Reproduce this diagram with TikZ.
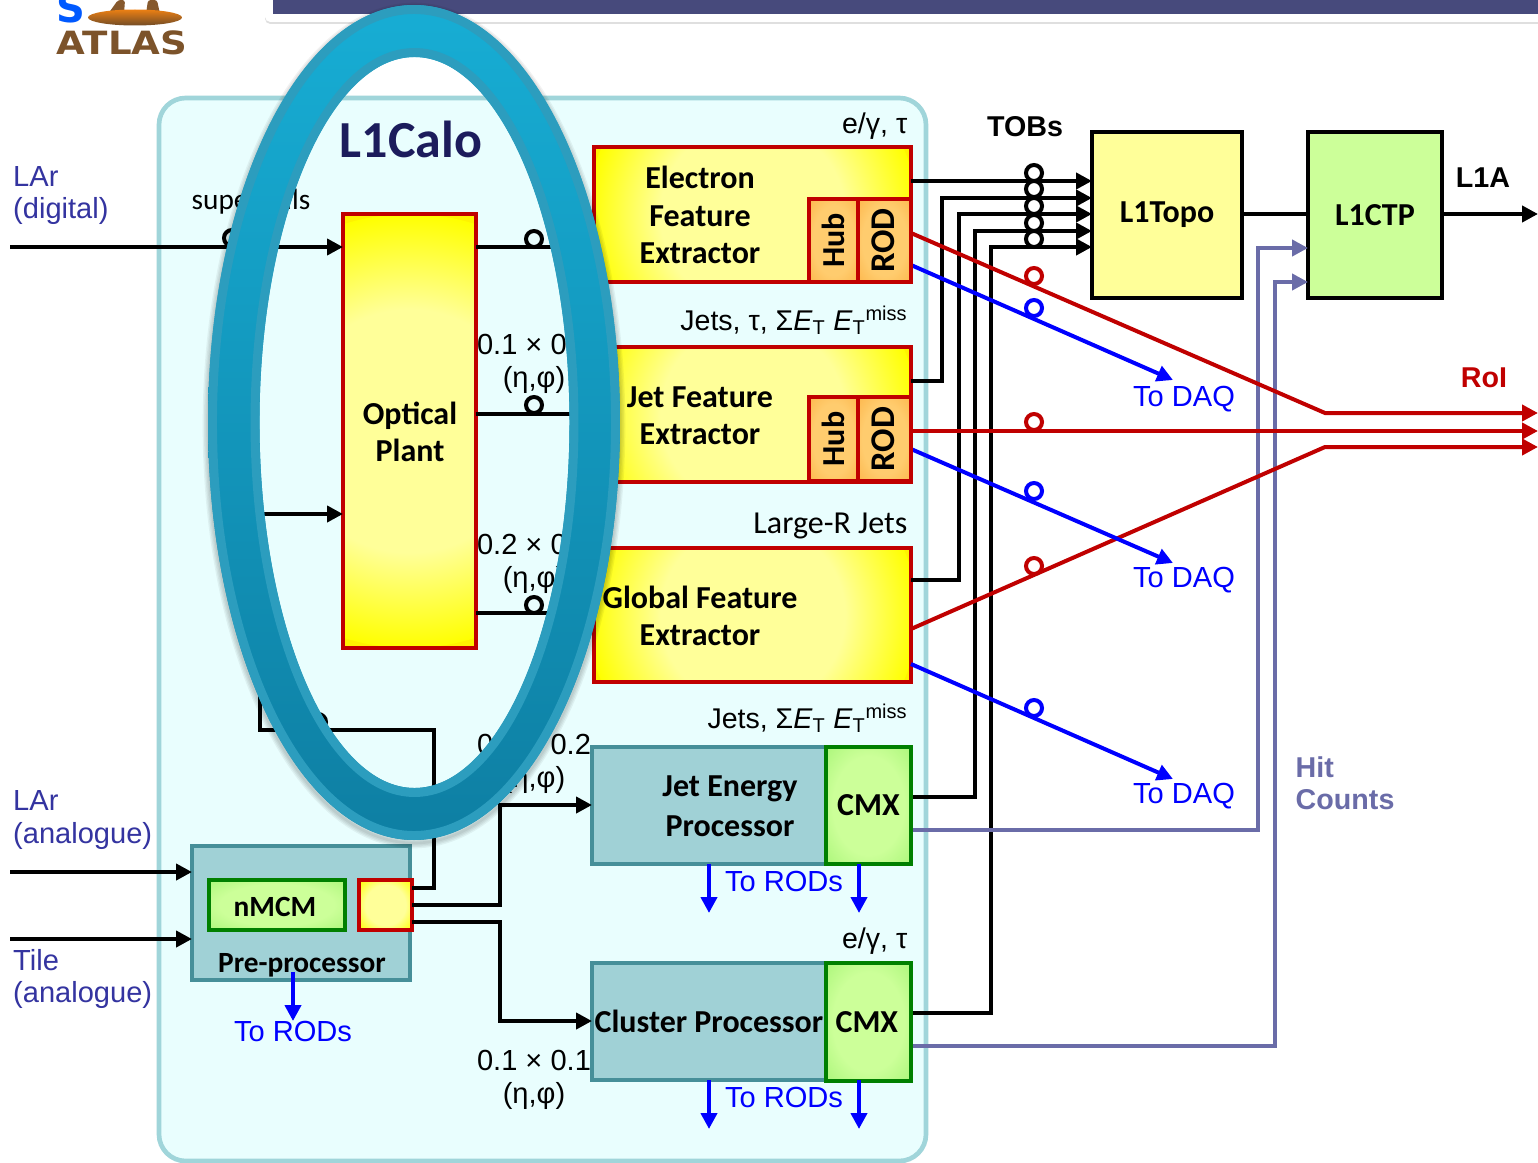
\documentclass[tikz,border=0pt]{standalone}
\usepackage{fontspec}
\setmainfont{Carlito}
\newfontfamily\arialfont{Liberation Sans}
\newfontfamily\logofont{DejaVu Sans}
\usepackage{xcolor}
\usetikzlibrary{arrows.meta,positioning,calc,shadows}
\definecolor{crimson}{HTML}{C00000}
\definecolor{calofill}{HTML}{E9FEFE}
\definecolor{caloedge}{HTML}{A0D5DA}
\definecolor{tealfill}{HTML}{A0D1D6}
\definecolor{tealedge}{HTML}{468F99}
\definecolor{hitline}{HTML}{6A6CA8}
\definecolor{inlabel}{HTML}{3434A0}
\definecolor{navy}{HTML}{1C1C5C}
\definecolor{barblue}{HTML}{474A7C}
\definecolor{paleyellow}{HTML}{FFFF99}
\definecolor{palegreen}{HTML}{CCFF99}
\definecolor{edgegreen}{HTML}{ADF77C}
\definecolor{paleorange}{HTML}{FFCC6E}
\definecolor{edgeorange}{HTML}{FDB84E}
\definecolor{ringtop}{HTML}{17ADD4}
\definecolor{ringbot}{HTML}{0E7FA3}
\definecolor{ringedge}{HTML}{2C9DBE}
\pgfdeclareradialshading{softyellow}{\pgfpointorigin}{color(0bp)=(paleyellow); color(14bp)=(paleyellow); color(25bp)=(yellow); color(50bp)=(yellow)}
\pgfdeclareradialshading{softgreen}{\pgfpointorigin}{color(0bp)=(palegreen); color(21bp)=(palegreen); color(35bp)=(edgegreen); color(50bp)=(edgegreen)}
\pgfdeclareradialshading{softorange}{\pgfpointorigin}{color(0bp)=(paleorange); color(21bp)=(paleorange); color(35bp)=(edgeorange); color(50bp)=(edgeorange)}
\tikzset{
  wh/.style 2 args={minimum width=#1*0.75pt, minimum height=#2*0.75pt, inner sep=0pt, outer sep=0pt},
  boldtxt/.style={font=\fontsize{24}{28}\selectfont\bfseries, align=center},
  arialbold/.style={font=\fontsize{21.5}{24}\selectfont\arialfont\bfseries, align=left},
  lbl/.style={font=\fontsize{21.8}{24.5}\selectfont\arialfont, align=center},
  tag/.style={font=\fontsize{21.4}{24}\selectfont\arialfont, anchor=east},
  calibri/.style={font=\fontsize{24}{24}\selectfont},
  yellowbox/.style={draw=crimson, line width=3pt, fill=yellow, path picture={\shade[shading=softyellow] (path picture bounding box.center) circle [radius=#1];}},
  orangebox/.style={draw=crimson, line width=3pt, shading=softorange, boldtxt},
  greenbox/.style={draw=green!50!black, line width=3pt, shading=softgreen, boldtxt},
  tealbox/.style={draw=tealedge, line width=3pt, fill=tealfill},
  topbox/.style={draw=black, line width=3pt, boldtxt},
  sig/.style={line width=3pt, line join=miter},
  sigarrow/.style={sig, -{Triangle[length=12pt,width=12pt]}},
  blackline/.style={sig, black},
  redline/.style={sigarrow, crimson},
  blueline/.style={sigarrow, blue},
  hitarrow/.style={sigarrow, hitline},
  tap/.style={circle, draw, line width=3pt, minimum size=12pt, inner sep=0pt},
}
\begin{document}
\begin{tikzpicture}[x=0.75pt, y=-0.75pt]
\useasboundingbox (0,0) rectangle (1538,1163);
\fill[white] (0,0) rectangle (1538,1163);

\fill[brown!70!black, rounded corners=2pt] (108,14) -- (118,0) -- (125,0) -- (124,14) -- cycle;
\fill[brown!70!black, rounded corners=2pt] (146,14) -- (148,0) -- (157,0) -- (160,14) -- cycle;
\shade[top color=orange!70!brown, bottom color=brown!60!black] (135,17.5) ellipse [x radius=47, y radius=8];
\node[font=\fontsize{24}{24}\selectfont\logofont\bfseries, text=brown!65!black, xscale=1.16] (atlas) at (122,43) {ATLAS};
\node[font=\fontsize{30}{30}\selectfont\logofont\bfseries, text=blue!65!cyan, anchor=base] (slogo) at (71,23) {S};

\node[fill=white, rounded corners=4pt, wh={1300}{40}, drop shadow={opacity=.25, shadow xshift=0pt, shadow yshift=-1.5pt}] (panel) at (915,2) {};
\node[fill=barblue, wh={1265}{14}, anchor=north west] (bar) at (273,0) {};

\node[draw=caloedge, fill=calofill, line width=3.5pt, rounded corners=20pt, wh={767}{1063}] (calo) at (542.5,629.5) {};
\node[font=\fontsize{39}{40}\selectfont\bfseries, text=navy] (title) at (411,139) {L1Calo};

\coordinate (lard) at (10,247);
\coordinate (laran) at (10,872);
\coordinate (tile) at (10,939);

\node[yellowbox=217, wh={133}{434}] (plant) at (409.5,431) {};
\node[yellowbox=165, wh={317}{135}] (efex) at (752.5,214.5) {};
\node[yellowbox=165, wh={317}{135}] (jfex) at (752.5,414.5) {};
\node[yellowbox=165, wh={317}{134}] (gfex) at (752.5,615) {};
\node[tealbox, wh={234}{117}] (jep) at (709,805.5) {};
\node[tealbox, wh={234}{117}] (cp) at (709,1021.5) {};
\node[tealbox, wh={218}{134}] (ppr) at (301,913) {};
\node[yellowbox=36, wh={53}{50}] (ppy) at (385.5,905) {};
\node[topbox, fill=paleyellow, wh={150}{166}] (topo) at (1167,215) {\raisebox{-2pt}{L1Topo}};
\node[topbox, fill=palegreen, wh={134}{166}] (ctp) at (1375,215) {L1CTP};

\draw[sigarrow] (lard) -- (plant.west |- lard);
\draw[sigarrow] (laran) -- (ppr.west |- laran);
\draw[sigarrow] (tile) -- (ppr.west |- tile);
\draw[sigarrow] (ppy.east |- 0,888) -| (434,730) -| (260,514) -- (plant.west |- 0,514);
\draw[sigarrow] (ppy.east |- 0,905) -| (500,805) -- (jep.west |- 0,805);
\draw[sigarrow] (ppy.east |- 0,922) -| (500,1021) -- (cp.west |- 0,1021);
\draw[blackline] (plant.east |- 0,247) -- (efex.west |- 0,247);
\draw[blackline] (plant.east |- 0,414) -- (jfex.west |- 0,414);
\draw[blackline] (plant.east |- 0,613) -- (gfex.west |- 0,613);

\draw[sigarrow] (efex.east |- 0,181) -- (topo.west |- 0,181);
\draw[sigarrow] (jfex.east |- 0,381) -| (942,198) -- (topo.west |- 0,198);
\draw[sigarrow] (gfex.east |- 0,580) -| (959,214) -- (topo.west |- 0,214);
\draw[sigarrow] (jep.east -| jfex.east) ++(0,-8.5) -| (975,231) -- (topo.west |- 0,231);
\draw[sigarrow] (cp.east -| jfex.east) ++(0,-8.5) -| (991,247) -- (topo.west |- 0,247);
\draw[blackline] (topo.east |- 0,214) -- (ctp.west |- 0,214);
\draw[sigarrow] (ctp.east |- 0,214) -- (1538,214);

\draw[hitarrow] (jfex.east |- 0,830) -| (1258,248) -- (ctp.west |- 0,248);
\draw[hitarrow] (jfex.east |- 0,1046) -| (1275,282) -- (ctp.west |- 0,282);

\draw[redline] (efex.east |- 0,233) -- (1325,413) -- (1538,413);
\draw[redline] (jfex.east |- 0,431) -- (1538,431);
\draw[redline] (gfex.east |- 0,629) -- (1325,447) -- (1538,447);
\draw[blueline] (efex.east |- 0,265) -- (1173,380);
\draw[blueline] (jfex.east |- 0,449) -- (1173,563);
\draw[blueline] (gfex.east |- 0,664) -- (1173,779);

\node[orangebox, rotate=90, wh={83}{49}] (hube) at (833.5,240.5) {Hub};
\node[orangebox, rotate=90, wh={83}{53}] (rode) at (884.5,240.5) {\fontsize{26}{28}\selectfont\raisebox{2pt}{ROD}};
\node[orangebox, rotate=90, wh={84}{49}] (hubj) at (833.5,439) {Hub};
\node[orangebox, rotate=90, wh={84}{53}] (rodj) at (884.5,439) {\fontsize{26}{28}\selectfont\raisebox{2pt}{ROD}};
\node[greenbox, wh={85}{117}] (cmxj) at (868.5,805.5) {CMX};
\node[greenbox, wh={85}{118}] (cmxc) at (868.5,1022) {\kern-2.5pt CMX};
\node[greenbox, wh={136}{50}] (nmcm) at (277,905) {};

\node[boldtxt] (efext) at (700,215) {Electron\\Feature\\Extractor};
\node[boldtxt] (jfext) at (700,416) {Jet Feature\\Extractor};
\node[boldtxt] (gfext) at (700,616) {Global Feature\\Extractor};
\node[boldtxt, font=\fontsize{24}{30}\selectfont\bfseries] (jept) at (730,806) {Jet Energy\\Processor};
\node[boldtxt] (cpt) at (709,1021) {Cluster Processor};
\node[boldtxt] (plantt) at (410,432) {Optical\\Plant};
\node[boldtxt, font=\fontsize{22}{24}\selectfont\bfseries] (pprt) at (302,965) {Pre-processor};
\node[boldtxt, font=\fontsize{22}{24}\selectfont\bfseries] (nmcmt) at (275,907) {nMCM};

\foreach \ypos in {173,189,206,223,239} \node[tap] (tob\ypos) at (1034,\ypos) {};
\foreach \ypos in {276,422,566} \node[tap, crimson] (roi\ypos) at (1034,\ypos) {};
\foreach \ypos in {308,491,708} \node[tap, blue] (daq\ypos) at (1034,\ypos) {};
\foreach \xpos/\ypos in {232/238,534/239,534/405,534/605,318/722} \node[tap] (in\xpos\ypos) at (\xpos,\ypos) {};

\foreach \xpos/\ypos in {709/864,859/864,709/1080,859/1080,293/972}
  \draw[blueline] (\xpos,\ypos) -- (\xpos,\ypos+49);

\foreach \ypos in {399.5,580.5,796.5} \node[lbl, text=blue] (daqt\ypos) at (1184,\ypos) {To DAQ};
\foreach \xpos/\ypos in {784/881.5,784/1097.5,293/1031} \node[lbl, text=blue] (rodt\ypos) at (\xpos,\ypos) {To RODs};

\node[lbl, text=inlabel, align=left, anchor=west] (lardt) at (8.5,195.5) {LAr\\(digital)};
\node[lbl, text=inlabel, align=left, anchor=west] (larat) at (8.5,820) {LAr\\(analogue)};
\node[lbl, text=inlabel, align=left, anchor=west] (tilet) at (8.5,979) {Tile\\(analogue)};

\node[calibri, font=\fontsize{22}{24}\selectfont] (super) at (251,202) {supercells};
\node[lbl] (res1) at (534,364) {0.1 × 0.1\\(η,φ)};
\node[lbl] (res2) at (534,564) {0.2 × 0.2\\(η,φ)};
\node[lbl] (res3) at (534,764) {0.2 × 0.2\\(η,φ)};
\node[lbl] (res4) at (534,1080) {0.1 × 0.1\\(η,φ)};

\node[tag] (tag1) at (912,126) {e/γ, τ};
\node[tag] (tag2) at (912,320) {Jets, τ, Σ\textit{E}\textsubscript{T} \textit{E}\textsubscript{T}\textsuperscript{miss}};
\node[calibri, anchor=east] (tag3) at (912,526) {Large-R Jets};
\node[tag] (tag4) at (912,718) {Jets, Σ\textit{E}\textsubscript{T} \textit{E}\textsubscript{T}\textsuperscript{miss}};
\node[tag] (tag5) at (912,941) {e/γ, τ};

\node[arialbold] (tobs) at (1025,127) {TOBs};
\node[arialbold] (l1a) at (1483,178) {L1A};
\node[arialbold, text=crimson] (roi) at (1484,378) {RoI};
\node[arialbold, text=hitline, anchor=west] (hits) at (1291,783) {Hit\\Counts};

\foreach \s in {2,4,6,8}
  \draw[black, opacity=.05, line width=\s pt] (414,425.5) ellipse [x radius=206, y radius=417.5];
\path[even odd rule, top color=ringtop, bottom color=ringbot]
  (414,422.5) ellipse [x radius=206, y radius=417.5] (414.5,422.5) ellipse [x radius=155, y radius=365.5];
\draw[ringedge, line width=6.7pt] (414,422.5) ellipse [x radius=201.5, y radius=413];
\draw[ringedge, line width=6.7pt] (414.5,422.5) ellipse [x radius=159.5, y radius=370];
\end{tikzpicture}
\end{document}
